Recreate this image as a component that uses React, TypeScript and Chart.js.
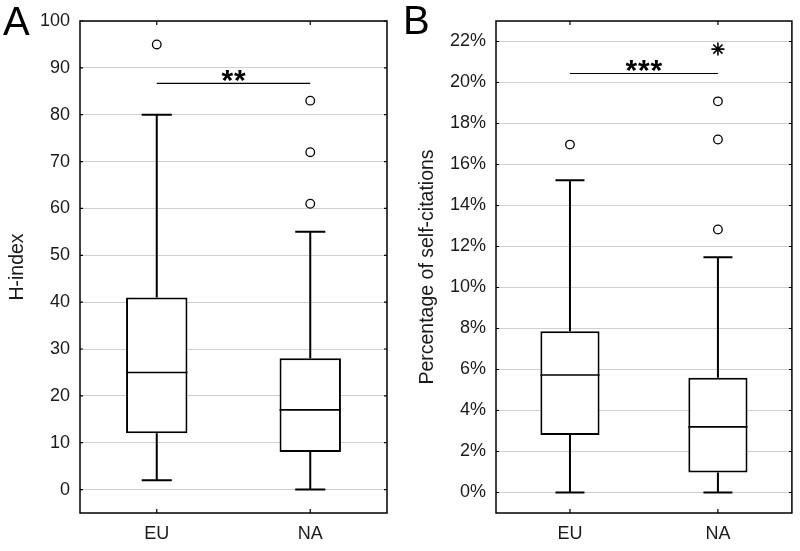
import React, { useEffect, useRef } from "react";
import { Chart, registerables } from "chart.js";

Chart.register(...registerables);

// ---------- data ----------
const categories = ["EU", "NA"];

// Panel A: H-index
const hTicks = [0, 10, 20, 30, 40, 50, 60, 70, 80, 90, 100];
const hMin = [2, 0];
const hQ1 = [12, 8];
const hMedian = [25, 17];
const hQ3 = [41, 28];
const hMax = [80, 55];
const hOutliers = [
  { x: "EU", y: 95 },
  { x: "NA", y: 61 },
  { x: "NA", y: 72 },
  { x: "NA", y: 83 },
];
const hExtremes: { x: string; y: number }[] = [];
const hSigLevel = 86.7;
const hSigLabel = "**";

// Panel B: percentage of self-citations
const sTicks = [0, 2, 4, 6, 8, 10, 12, 14, 16, 18, 20, 22];
const sMin = [0, 0];
const sQ1 = [2.8, 0.97];
const sMedian = [5.73, 3.2];
const sQ3 = [7.87, 5.6];
const sMax = [15.23, 11.47];
const sOutliers = [
  { x: "EU", y: 16.97 },
  { x: "NA", y: 12.83 },
  { x: "NA", y: 17.22 },
  { x: "NA", y: 19.08 },
];
const sExtremes = [{ x: "NA", y: 21.63 }];
const sSigLevel = 20.44;
const sSigLabel = "***";

const FONT = "'Liberation Sans', Arial, sans-serif";
const TEXT = "#1a1a1a";
const GRID = "#cfcfcf";

type PanelCfg = {
  letter: string;
  letterY: number;
  yTitle: string;
  yTitlePad: number;
  yMin: number;
  yMax: number;
  ticks: number[];
  pct: boolean;
  axisWidth: number;
  padRight: number;
  min: number[];
  q1: number[];
  median: number[];
  q3: number[];
  max: number[];
  outliers: { x: string; y: number }[];
  extremes: { x: string; y: number }[];
  sigLevel: number;
  sigLabel: string;
};

function makeBoxPlugin(cfg: PanelCfg) {
  return {
    id: "boxExtras",
    afterDatasetsDraw(chart: any) {
      const ctx = chart.ctx;
      const y = chart.scales.y;
      const meta = chart.getDatasetMeta(0);
      ctx.save();
      ctx.strokeStyle = "#000";
      meta.data.forEach((bar: any, i: number) => {
        const cx = bar.x;
        const half = bar.width / 2;
        const cap = bar.width * 0.245;
        const pMin = y.getPixelForValue(cfg.min[i]);
        const pQ1 = y.getPixelForValue(cfg.q1[i]);
        const pQ3 = y.getPixelForValue(cfg.q3[i]);
        const pMax = y.getPixelForValue(cfg.max[i]);
        const pMed = y.getPixelForValue(cfg.median[i]);
        ctx.lineWidth = 2;
        ctx.beginPath();
        ctx.moveTo(cx, pQ3);
        ctx.lineTo(cx, pMax);
        ctx.moveTo(cx - cap, pMax);
        ctx.lineTo(cx + cap, pMax);
        ctx.moveTo(cx, pQ1);
        ctx.lineTo(cx, pMin);
        ctx.moveTo(cx - cap, pMin);
        ctx.lineTo(cx + cap, pMin);
        ctx.stroke();
        ctx.lineWidth = 1.6;
        ctx.beginPath();
        ctx.moveTo(cx - half, pMed);
        ctx.lineTo(cx + half, pMed);
        ctx.stroke();
      });
      ctx.restore();
    },
    afterDraw(chart: any) {
      const ctx = chart.ctx;
      const { left, right, top, bottom } = chart.chartArea;
      const x = chart.scales.x;
      const y = chart.scales.y;
      ctx.save();
      // frame
      ctx.strokeStyle = "#000";
      ctx.lineWidth = 1.5;
      ctx.strokeRect(left, top, right - left, bottom - top);
      // inward tick marks
      ctx.lineWidth = 1.2;
      ctx.beginPath();
      y.ticks.forEach((t: any) => {
        const py = y.getPixelForValue(t.value);
        ctx.moveTo(left, py);
        ctx.lineTo(left + 3, py);
        ctx.moveTo(right, py);
        ctx.lineTo(right - 3, py);
      });
      categories.forEach((_c, i) => {
        const px = x.getPixelForValue(i);
        ctx.moveTo(px, top);
        ctx.lineTo(px, top + 4);
        ctx.moveTo(px, bottom);
        ctx.lineTo(px, bottom - 4);
      });
      ctx.stroke();
      // significance bar
      const x0 = x.getPixelForValue(0);
      const x1 = x.getPixelForValue(1);
      const sy = y.getPixelForValue(cfg.sigLevel);
      ctx.lineWidth = 1.2;
      ctx.beginPath();
      ctx.moveTo(x0, sy);
      ctx.lineTo(x1, sy);
      ctx.stroke();
      ctx.fillStyle = "#000";
      ctx.font = `bold 30px ${FONT}`;
      ctx.textAlign = "center";
      ctx.textBaseline = "alphabetic";
      const n = cfg.sigLabel.length;
      const spacing = 12.5;
      const mid = (x0 + x1) / 2;
      for (let k = 0; k < n; k++) {
        const px = mid + (k - (n - 1) / 2) * spacing;
        ctx.fillText(cfg.sigLabel[k], px, sy + 7);
      }
      // panel letter
      ctx.font = `40px ${FONT}`;
      ctx.textAlign = "left";
      ctx.fillStyle = "#000";
      ctx.fillText(cfg.letter, 3, cfg.letterY);
      ctx.restore();
    },
  };
}

function Panel({ cfg, left }: { cfg: PanelCfg; left: number }) {
  const ref = useRef<HTMLCanvasElement | null>(null);
  useEffect(() => {
    if (!ref.current) return;
    const boxData = cfg.q1.map((q, i) => [q, cfg.q3[i]]);
    const chart = new Chart(ref.current, {
      type: "bar",
      data: {
        labels: categories,
        datasets: [
          {
            type: "bar",
            data: boxData as any,
            backgroundColor: "#ffffff",
            borderColor: "#000000",
            borderWidth: 2,
            borderSkipped: false,
            barPercentage: 0.4,
            categoryPercentage: 1,
          } as any,
          {
            type: "line",
            data: cfg.outliers as any,
            showLine: false,
            pointStyle: "circle",
            pointRadius: 4.3,
            pointBorderWidth: 1.3,
            pointBackgroundColor: "#ffffff",
            pointBorderColor: "#000000",
          } as any,
          {
            type: "line",
            data: cfg.extremes as any,
            showLine: false,
            pointStyle: "star",
            pointRadius: 6.5,
            pointBorderWidth: 1.6,
            pointBackgroundColor: "#000000",
            pointBorderColor: "#000000",
          } as any,
        ],
      },
      options: {
        responsive: false,
        animation: false,
        maintainAspectRatio: false,
        layout: { padding: { top: 21, right: cfg.padRight, left: 0, bottom: 0 } },
        plugins: { legend: { display: false }, tooltip: { enabled: false } },
        scales: {
          x: {
            type: "category",
            offset: true,
            grid: { display: false, drawTicks: false },
            border: { display: false },
            ticks: { color: TEXT, font: { family: FONT, size: 18 }, padding: 10 },
            afterFit: (s: any) => {
              s.height = 38;
            },
          },
          y: {
            type: "linear",
            min: cfg.yMin,
            max: cfg.yMax,
            grid: { color: GRID, lineWidth: 1, drawTicks: false },
            border: { display: false },
            afterBuildTicks: (s: any) => {
              s.ticks = cfg.ticks.map((v) => ({ value: v }));
            },
            ticks: {
              color: TEXT,
              font: { family: FONT, size: 18 },
              padding: 10,
              callback: (v: any) => (cfg.pct ? `${v}%` : `${v}`),
            },
            title: {
              display: true,
              text: cfg.yTitle,
              color: TEXT,
              font: { family: FONT, size: 19.5 },
              padding: { top: cfg.yTitlePad, bottom: 0 },
            },
            afterFit: (s: any) => {
              s.width = cfg.axisWidth;
            },
          },
        },
      } as any,
      plugins: [makeBoxPlugin(cfg)],
    });
    return () => chart.destroy();
  }, [cfg]);
  return (
    <canvas
      ref={ref}
      width={400}
      height={551}
      style={{ position: "absolute", left, top: 0, width: 400, height: 551 }}
    />
  );
}

const panelA: PanelCfg = {
  letter: "A",
  letterY: 35,
  yTitle: "H-index",
  yTitlePad: 6,
  yMin: -5,
  yMax: 100,
  ticks: hTicks,
  pct: false,
  axisWidth: 80,
  padRight: 13,
  min: hMin,
  q1: hQ1,
  median: hMedian,
  q3: hQ3,
  max: hMax,
  outliers: hOutliers,
  extremes: hExtremes,
  sigLevel: hSigLevel,
  sigLabel: hSigLabel,
};

const panelB: PanelCfg = {
  letter: "B",
  letterY: 34,
  yTitle: "Percentage of self-citations",
  yTitlePad: 16,
  yMin: -1,
  yMax: 23,
  ticks: sTicks,
  pct: true,
  axisWidth: 96,
  padRight: 4,
  min: sMin,
  q1: sQ1,
  median: sMedian,
  q3: sQ3,
  max: sMax,
  outliers: sOutliers,
  extremes: sExtremes,
  sigLevel: sSigLevel,
  sigLabel: sSigLabel,
};

export default function App() {
  return (
    <div
      style={{
        position: "absolute",
        left: 0,
        top: 0,
        width: 800,
        height: 551,
        background: "#ffffff",
        overflow: "hidden",
      }}
    >
      <Panel cfg={panelA} left={0} />
      <Panel cfg={panelB} left={400} />
    </div>
  );
}
